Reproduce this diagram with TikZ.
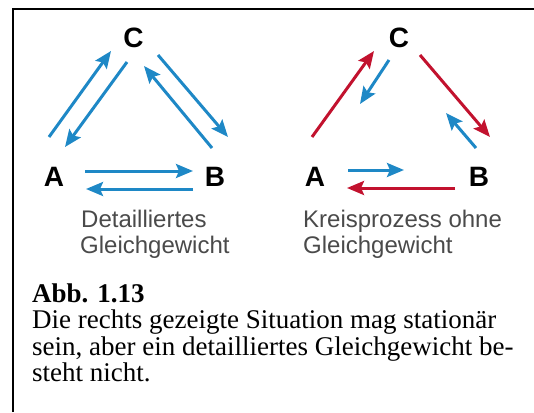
\documentclass[tikz,border=0pt]{standalone}
\usepackage{fontspec}
\setmainfont{Liberation Serif}
\newfontfamily\labelfont{Liberation Sans}
\usetikzlibrary{arrows.meta}
\definecolor{arrblue}{HTML}{1E88C6}
\definecolor{arrred}{HTML}{C2122E}
\definecolor{txtgray}{HTML}{4A4A4A}
\tikzset{
  frameline/.style={line width=2pt, black},
  letter/.style={font=\labelfont\bfseries\fontsize{28}{28}\selectfont, inner sep=0pt, anchor=base},
  desc/.style={font=\labelfont\fontsize{24}{24}\selectfont, text=txtgray, inner sep=0pt, anchor=base west},
  capt/.style={font=\fontsize{27}{27}\selectfont, inner sep=0pt, anchor=base west},
  arr/.style={line width=3pt, -{Stealth[length=17pt,width=14pt,inset=3pt]}},
  blu/.style={arr, arrblue},
  rd/.style={arr, arrred},
}
\begin{document}
\begin{tikzpicture}[x=1pt,y=-1pt]
\useasboundingbox (0,0) rectangle (534,412);
% frame
\coordinate (fb) at (12.5,412);
\coordinate (fc) at (12.5,9.5);
\coordinate (fr) at (534,9.5);
\draw[frameline] (fb) -- (fc) -- (fr);

% left panel labels
\node[letter] (C1) at (133.5,47) {C};
\node[letter] (A1) at (54,186) {A};
\node[letter] (B1) at (215,186) {B};
\node[desc] (d1) at (81,227) {Detailliertes};
\node[desc] (d2) at (80,253) {Gleichgewicht};

% left arrows
\coordinate (l1s) at (49,137);  \coordinate (l1e) at (111,51);
\coordinate (l2s) at (127,62);  \coordinate (l2e) at (65,147);
\coordinate (l3s) at (158,55);  \coordinate (l3e) at (228,137);
\coordinate (l4s) at (212,148); \coordinate (l4e) at (144,66);
\coordinate (l5s) at (85,171);  \coordinate (l5e) at (193,171);
\coordinate (l6s) at (193,189); \coordinate (l6e) at (86,189);
\draw[blu] (l1s) -- (l1e);
\draw[blu] (l2s) -- (l2e);
\draw[blu] (l3s) -- (l3e);
\draw[blu] (l4s) -- (l4e);
\draw[blu] (l5s) -- (l5e);
\draw[blu] (l6s) -- (l6e);

% right panel labels
\node[letter] (C2) at (399,47) {C};
\node[letter] (A2) at (315,186) {A};
\node[letter] (B2) at (479,186) {B};
\node[desc] (d3) at (303,227) {Kreisprozess ohne};
\node[desc] (d4) at (303,253) {Gleichgewicht};

% right arrows
\coordinate (r1s) at (312,137); \coordinate (r1e) at (374,51);
\coordinate (r2s) at (389,60);  \coordinate (r2e) at (360,104);
\coordinate (r3s) at (420,55);  \coordinate (r3e) at (490,137);
\coordinate (r4s) at (476,148); \coordinate (r4e) at (446,113);
\coordinate (r5s) at (348,170); \coordinate (r5e) at (404,170);
\coordinate (r6s) at (455,188); \coordinate (r6e) at (347,188);
\draw[rd] (r1s) -- (r1e);
\draw[blu] (r2s) -- (r2e);
\draw[rd] (r3s) -- (r3e);
\draw[blu] (r4s) -- (r4e);
\draw[blu] (r5s) -- (r5e);
\draw[rd] (r6s) -- (r6e);

% caption
\node[capt] (cap1) at (32,302) {\bfseries Abb. 1.13};
\node[capt] (cap2) at (32,328.5) {Die rechts gezeigte Situation mag stationär};
\node[capt] (cap3) at (32,355) {sein, aber ein detailliertes Gleichgewicht be-};
\node[capt] (cap4) at (32,381.5) {steht nicht.};
\end{tikzpicture}
\end{document}
